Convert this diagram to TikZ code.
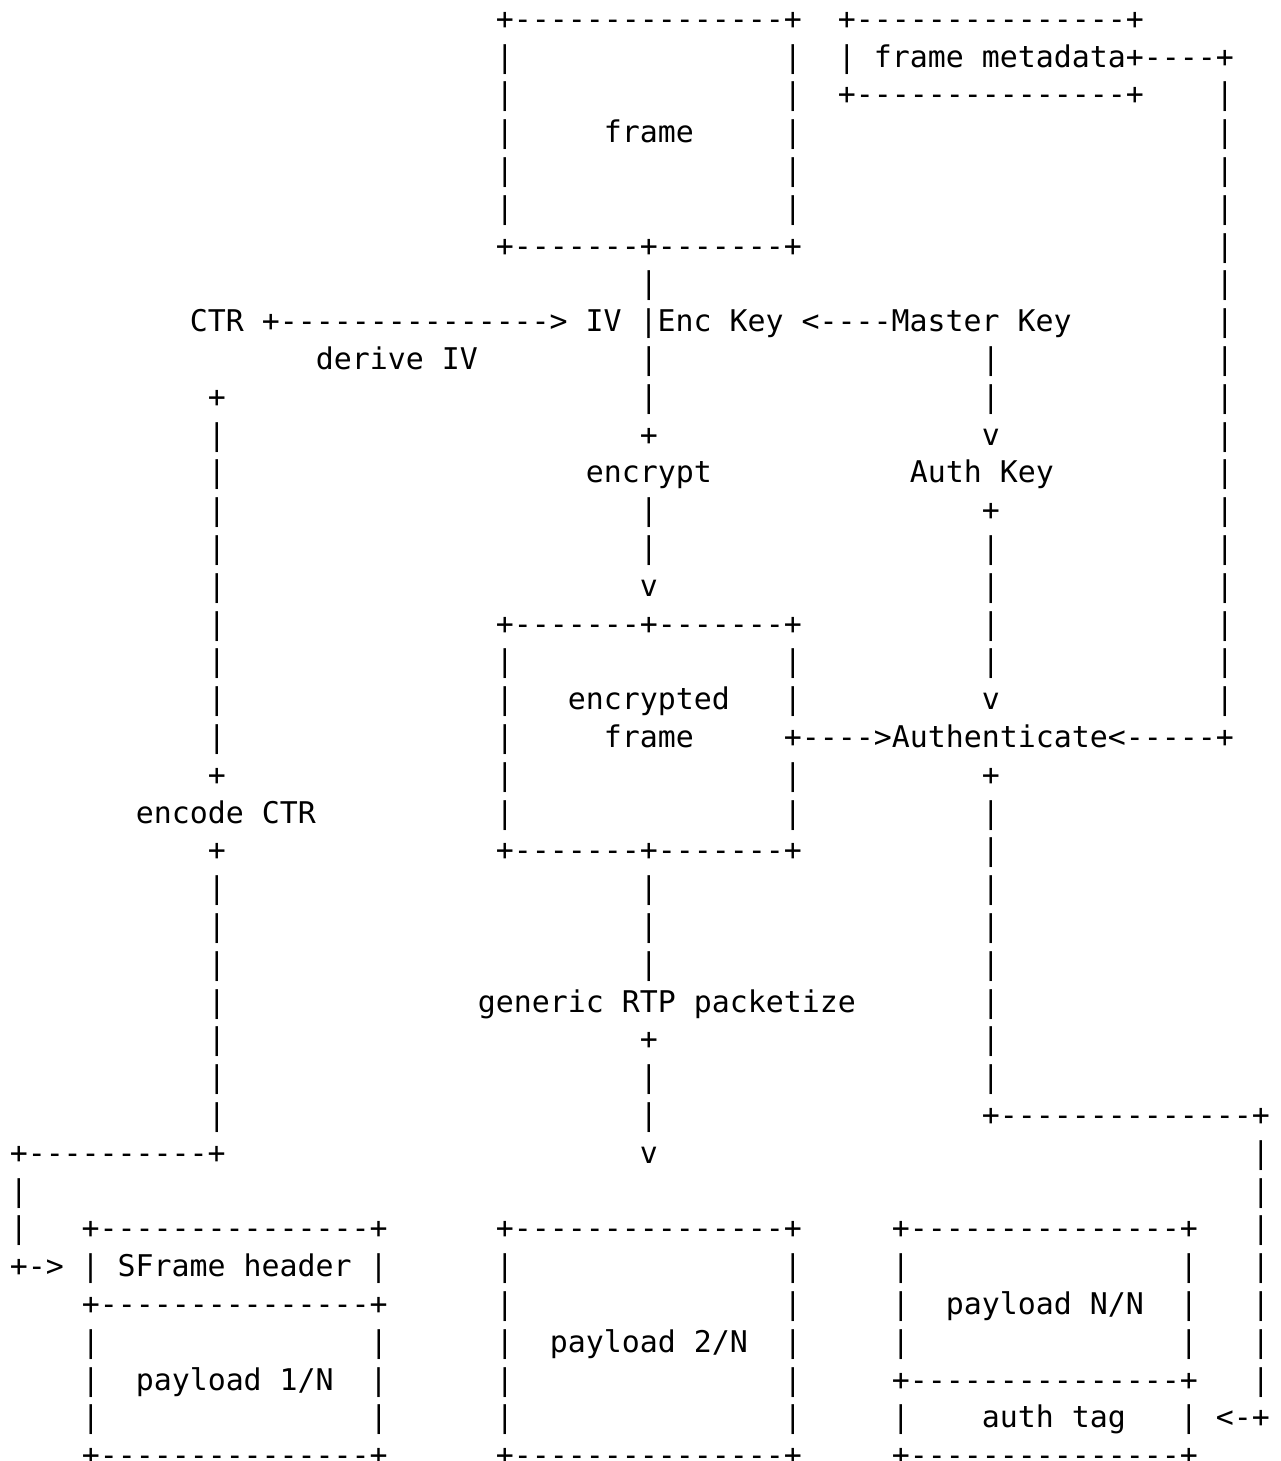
\documentclass[tikz,border=0pt]{standalone}
\usepackage{fontspec}
\newfontfamily\asciifont{DejaVu Sans Mono}
\ExplSyntaxOn
\newcommand\rep[2]{\prg_replicate:nn{#1}{#2}}
\ExplSyntaxOff
\frenchspacing
\tikzset{
  asc/.style={inner sep=0pt, outer sep=0pt, anchor=base west,
    font=\asciifont\fontsize{29.9pt}{37.8pt}\selectfont, text=black}
}
% name, row, column, text
\newcommand\asc[4]{\node[asc] (#1) at ({9.75+18*#3},{18+37.8*#2+11.3}) {#4};}
\begin{document}
\begin{tikzpicture}[x=1pt,y=-1pt]
\useasboundingbox[fill=white] (0,0) rectangle (1281,1461);
\asc{r0}{0}{27}{+\rep{15}{-}+\rep{2}{~}+\rep{15}{-}+}
\asc{r1}{1}{27}{|\rep{15}{~}|\rep{2}{~}|~frame metadata+\rep{4}{-}+}
\asc{r2}{2}{27}{|\rep{15}{~}|\rep{2}{~}+\rep{15}{-}+\rep{4}{~}|}
\asc{r3}{3}{27}{|\rep{5}{~}frame\rep{5}{~}|\rep{23}{~}|}
\asc{r4}{4}{27}{|\rep{15}{~}|\rep{23}{~}|}
\asc{r5}{5}{27}{|\rep{15}{~}|\rep{23}{~}|}
\asc{r6}{6}{27}{+\rep{7}{-}+\rep{7}{-}+\rep{23}{~}|}
\asc{r7}{7}{35}{|\rep{31}{~}|}
\asc{r8}{8}{10}{CTR~+\rep{15}{-}>~IV~|Enc~Key~<\rep{4}{-}Master~Key\rep{8}{~}|}
\asc{r9}{9}{17}{derive~IV\rep{9}{~}|\rep{18}{~}|\rep{12}{~}|}
\asc{r10}{10}{11}{+\rep{23}{~}|\rep{18}{~}|\rep{12}{~}|}
\asc{r11}{11}{11}{|\rep{23}{~}+\rep{18}{~}v\rep{12}{~}|}
\asc{r12}{12}{11}{|\rep{20}{~}encrypt\rep{11}{~}Auth~Key\rep{9}{~}|}
\asc{r13}{13}{11}{|\rep{23}{~}|\rep{18}{~}+\rep{12}{~}|}
\asc{r14}{14}{11}{|\rep{23}{~}|\rep{18}{~}|\rep{12}{~}|}
\asc{r15}{15}{11}{|\rep{23}{~}v\rep{18}{~}|\rep{12}{~}|}
\asc{r16}{16}{11}{|\rep{15}{~}+\rep{7}{-}+\rep{7}{-}+\rep{10}{~}|\rep{12}{~}|}
\asc{r17}{17}{11}{|\rep{15}{~}|\rep{15}{~}|\rep{10}{~}|\rep{12}{~}|}
\asc{r18}{18}{11}{|\rep{15}{~}|\rep{3}{~}encrypted\rep{3}{~}|\rep{10}{~}v\rep{12}{~}|}
\asc{r19}{19}{11}{|\rep{15}{~}|\rep{5}{~}frame\rep{5}{~}+\rep{4}{-}>Authenticate<\rep{5}{-}+}
\asc{r20}{20}{11}{+\rep{15}{~}|\rep{15}{~}|\rep{10}{~}+}
\asc{r21}{21}{7}{encode~CTR\rep{10}{~}|\rep{15}{~}|\rep{10}{~}|}
\asc{r22}{22}{11}{+\rep{15}{~}+\rep{7}{-}+\rep{7}{-}+\rep{10}{~}|}
\asc{r23}{23}{11}{|\rep{23}{~}|\rep{18}{~}|}
\asc{r24}{24}{11}{|\rep{23}{~}|\rep{18}{~}|}
\asc{r25}{25}{11}{|\rep{23}{~}|\rep{18}{~}|}
\asc{r26}{26}{11}{|\rep{14}{~}generic~RTP~packetize\rep{7}{~}|}
\asc{r27}{27}{11}{|\rep{23}{~}+\rep{18}{~}|}
\asc{r28}{28}{11}{|\rep{23}{~}|\rep{18}{~}|}
\asc{r29}{29}{11}{|\rep{23}{~}|\rep{18}{~}+\rep{14}{-}+}
\asc{r30}{30}{0}{+\rep{10}{-}+\rep{23}{~}v\rep{33}{~}|}
\asc{r31}{31}{0}{|\rep{68}{~}|}
\asc{r32}{32}{0}{|\rep{3}{~}+\rep{15}{-}+\rep{6}{~}+\rep{15}{-}+\rep{5}{~}+\rep{15}{-}+\rep{3}{~}|}
\asc{r33}{33}{0}{+->~|~SFrame~header~|\rep{6}{~}|\rep{15}{~}|\rep{5}{~}|\rep{15}{~}|\rep{3}{~}|}
\asc{r34}{34}{4}{+\rep{15}{-}+\rep{6}{~}|\rep{15}{~}|\rep{5}{~}|~~payload~N/N~~|\rep{3}{~}|}
\asc{r35}{35}{4}{|\rep{15}{~}|\rep{6}{~}|~~payload~2/N~~|\rep{5}{~}|\rep{15}{~}|\rep{3}{~}|}
\asc{r36}{36}{4}{|~~payload~1/N~~|\rep{6}{~}|\rep{15}{~}|\rep{5}{~}+\rep{15}{-}+\rep{3}{~}|}
\asc{r37}{37}{4}{|\rep{15}{~}|\rep{6}{~}|\rep{15}{~}|\rep{5}{~}|\rep{4}{~}auth~tag\rep{3}{~}|~<-+}
\asc{r38}{38}{4}{+\rep{15}{-}+\rep{6}{~}+\rep{15}{-}+\rep{5}{~}+\rep{15}{-}+}
\end{tikzpicture}
\end{document}
